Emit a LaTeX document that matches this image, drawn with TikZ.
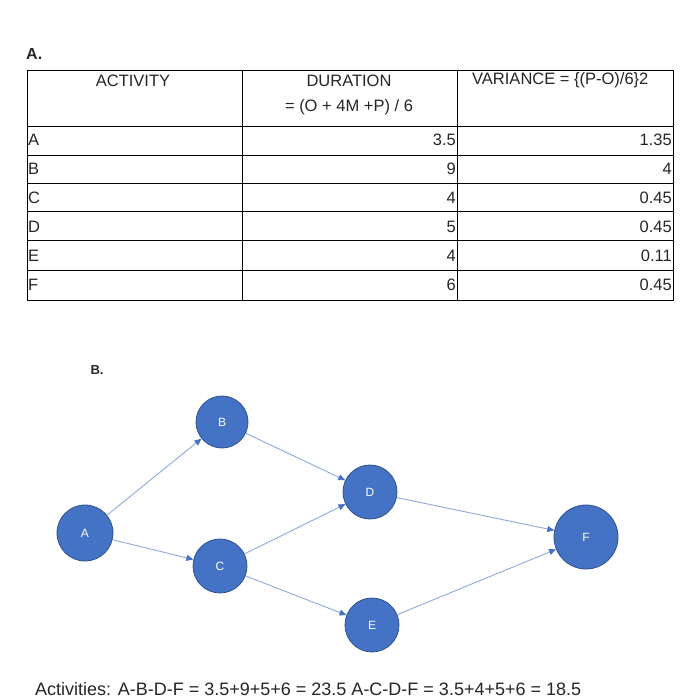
\documentclass[tikz,border=0pt]{standalone}
\usepackage{fontspec}
\setmainfont{Liberation Sans}
\usetikzlibrary{arrows.meta}
\definecolor{nodefill}{HTML}{4472C4}
\definecolor{nodeborder}{HTML}{2F528F}
\definecolor{edge}{HTML}{8FAADC}
\begin{document}
\begin{tikzpicture}[x=1pt,y=-1pt,
  tbl/.style={line width=0.9pt},
  txt/.style={font=\fontsize{16.5}{18}\selectfont, text=black!85, inner sep=0pt},
  ev/.style={circle, fill=nodefill, draw=nodeborder, line width=0.8pt, text=white, font=\fontsize{12}{13}\selectfont, inner sep=0pt},
  arr/.style={draw=edge, line width=0.9pt, -{Triangle[length=7pt,width=6pt,fill=nodefill,color=nodefill]}}]
\clip (0,0) rectangle (700,698);
\fill[white] (0,0) rectangle (700,698);
% table
\draw[tbl] (27,70) rectangle (673,300);
\foreach \y in {126,155,183,211,240,270} \draw[tbl] (27,\y) -- (673,\y);
\draw[tbl] (242,70) -- (242,300);
\draw[tbl] (457,70) -- (457,300);
\node[txt, font=\bfseries\fontsize{16}{18}\selectfont, anchor=west] (lA) at (26,54) {A.};
\node[txt] (h1) at (133,81) {ACTIVITY};
\node[txt] (h2) at (349,81) {DURATION};
\node[txt] (h3) at (349,107) {= (O + 4M +P) / 6};
\node[txt, anchor=west] (h4) at (472,80) {VARIANCE = \{(P-O)/6\}2};
\foreach \n/\d/\v [count=\i] in {A/3.5/1.35,B/9/4,C/4/0.45,D/5/0.45,E/4/0.11,F/6/0.45}{
  \pgfmathsetmacro{\yy}{126+(\i-1)*29+14}
  \node[txt, anchor=west] (r\i a) at (28,\yy) {\n};
  \node[txt, anchor=east] (r\i b) at (456,\yy) {\d};
  \node[txt, anchor=east] (r\i c) at (672,\yy) {\v};
}
\node[txt, font=\bfseries\fontsize{13}{14}\selectfont] (lB) at (97,370) {B.};
% network
\node[ev, minimum size=56pt] (A) at (85,533) {A};
\node[ev, minimum size=52pt] (B) at (222,422) {B};
\node[ev, minimum size=54pt] (C) at (220,566) {C};
\node[ev, minimum size=54pt] (D) at (370,492) {D};
\node[ev, minimum size=54pt] (E) at (372,625) {E};
\node[ev, minimum size=64pt] (F) at (586,537) {F};
\draw[arr] (A) -- (B);
\draw[arr] (A) -- (C);
\draw[arr] (B) -- (D);
\draw[arr] (C) -- (D);
\draw[arr] (C) -- (E);
\draw[arr] (D) -- (F);
\draw[arr] (E) -- (F);
\node[txt, font=\fontsize{18}{20}\selectfont, anchor=base west] (act) at (35,695) {Activities: A-B-D-F = 3.5+9+5+6 = 23.5 A-C-D-F = 3.5+4+5+6 = 18.5};
\end{tikzpicture}
\end{document}
